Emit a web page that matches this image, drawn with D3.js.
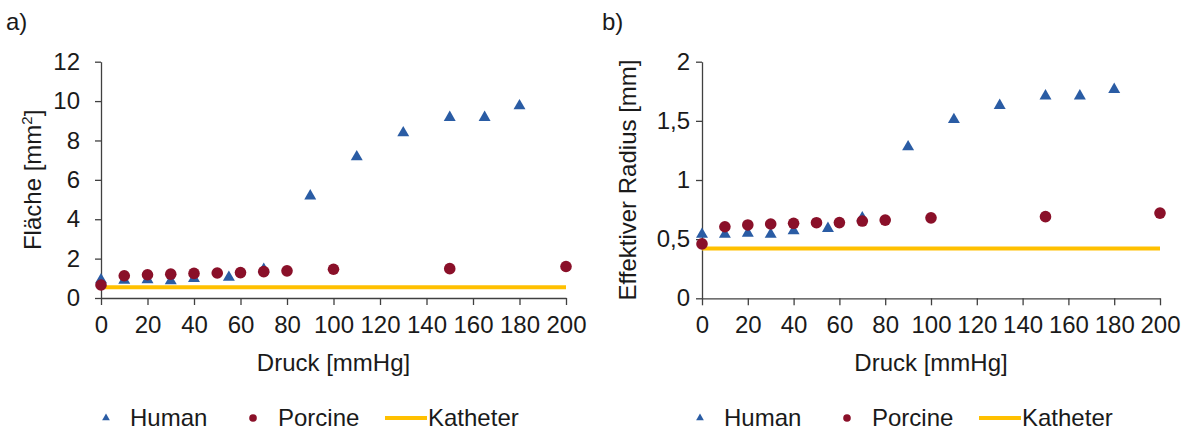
<!DOCTYPE html>
<html>
<head>
<meta charset="utf-8">
<script src="https://cdn.jsdelivr.net/npm/d3@7"></script>
<style>
  html, body { margin: 0; padding: 0; background: #fff; }
  svg { display: block; font-family: Arial, "Liberation Sans", sans-serif; }
</style>
</head>
<body>
<svg id="chart" width="1186" height="431"></svg>
<script>
// Pressure steps (mmHg)
const humanPressure   = [0, 10, 20, 30, 40, 55, 70, 90, 110, 130, 150, 165, 180];
const porcinePressure = [0, 10, 20, 30, 40, 50, 60, 70, 80, 100, 150, 200];

// a) cross-sectional area [mm²]
const humanArea     = [0.92, 0.90, 0.93, 0.87, 0.99, 1.05, 1.45, 5.18, 7.17, 8.39, 9.17, 9.17, 9.76];
const porcineArea   = [0.66, 1.13, 1.18, 1.21, 1.25, 1.27, 1.29, 1.34, 1.38, 1.46, 1.49, 1.60];
const catheterArea  = 0.55;

// b) effective radius [mm]
const humanRadius    = [0.54, 0.54, 0.55, 0.54, 0.57, 0.59, 0.68, 1.28, 1.51, 1.63, 1.71, 1.71, 1.765];
const porcineRadius  = [0.46, 0.605, 0.62, 0.628, 0.634, 0.639, 0.64, 0.653, 0.661, 0.68, 0.69, 0.72];
const catheterRadius = 0.42;

// Axis ticks
const xTicks       = [0, 20, 40, 60, 80, 100, 120, 140, 160, 180, 200];
const areaTicks    = [0, 2, 4, 6, 8, 10, 12];
const radiusTicks  = [0, 0.5, 1, 1.5, 2];

const seriesNames = ["Human", "Porcine", "Katheter"];

const BLUE = "#2A5CA4";
const RED = "#8A1029";
const GOLD = "#FFC000";
const AXIS = "#404040";
const TEXT = "#1a1a1a";
const FS = 24;

const svg = d3.select("#chart");
const fmt = d => String(d).replace(".", ",");

function panel(cfg) {
  const g = svg.append("g");
  const x = d3.scaleLinear().domain([0, 200]).range([cfg.x0, cfg.x1]);
  const y = d3.scaleLinear().domain(cfg.yDomain).range([cfg.y0, cfg.y1]);

  // panel letter
  g.append("text").attr("x", cfg.letterX).attr("y", 30)
    .attr("font-size", FS).attr("fill", TEXT).text(cfg.letter);

  // y axis
  const ya = g.append("g").attr("transform", `translate(${cfg.x0},0)`)
    .call(d3.axisLeft(y).tickValues(cfg.yTicks).tickSize(6).tickSizeOuter(0).tickPadding(cfg.yPad).tickFormat(fmt));
  // x axis
  const xa = g.append("g").attr("transform", `translate(0,${cfg.y0})`)
    .call(d3.axisBottom(x).tickValues(xTicks).tickSize(7).tickSizeOuter(0).tickPadding(11));

  [ya, xa].forEach(a => {
    a.selectAll("path").attr("stroke", AXIS).attr("stroke-width", 1.3);
    a.selectAll("line").attr("stroke", AXIS).attr("stroke-width", 1.3);
    a.selectAll("text").attr("font-size", FS).attr("fill", TEXT)
      .attr("font-family", "Arial, 'Liberation Sans', sans-serif");
  });

  // axis titles
  g.append("text")
    .attr("x", (cfg.x0 + cfg.x1) / 2).attr("y", 371)
    .attr("text-anchor", "middle").attr("font-size", FS).attr("fill", TEXT)
    .text("Druck [mmHg]");

  const yt = g.append("text")
    .attr("transform", `translate(${cfg.yTitleX},${(cfg.y0 + cfg.y1) / 2}) rotate(-90)`)
    .attr("text-anchor", "middle").attr("font-size", FS).attr("fill", TEXT);
  cfg.yTitle(yt);

  // catheter reference line
  g.append("line")
    .attr("x1", x(0)).attr("x2", x(200))
    .attr("y1", y(cfg.catheter)).attr("y2", y(cfg.catheter))
    .attr("stroke", GOLD).attr("stroke-width", 4);

  // human (triangles)
  const tri = d3.symbol().type(d3.symbolTriangle).size(62);
  g.selectAll(".human").data(humanPressure.map((p, i) => [p, cfg.human[i]]))
    .join("path")
    .attr("d", tri)
    .attr("transform", d => `translate(${x(d[0])},${y(d[1])})`)
    .attr("fill", BLUE);

  // porcine (circles)
  g.selectAll(".porcine").data(porcinePressure.map((p, i) => [p, cfg.porcine[i]]))
    .join("circle")
    .attr("cx", d => x(d[0])).attr("cy", d => y(d[1]))
    .attr("r", 5.8).attr("fill", RED);

  // legend
  const ly = 418;
  const lg = g.append("g");
  lg.append("path").attr("d", d3.symbol().type(d3.symbolTriangle).size(26))
    .attr("transform", `translate(${cfg.legendX},${ly})`).attr("fill", BLUE);
  lg.append("text").attr("x", cfg.legendX + 24).attr("y", ly).attr("dy", "0.35em")
    .attr("font-size", FS).attr("fill", TEXT).text(seriesNames[0]);
  lg.append("circle").attr("cx", cfg.legendX + 147).attr("cy", ly).attr("r", 3.8).attr("fill", RED);
  lg.append("text").attr("x", cfg.legendX + 172).attr("y", ly).attr("dy", "0.35em")
    .attr("font-size", FS).attr("fill", TEXT).text(seriesNames[1]);
  lg.append("line").attr("x1", cfg.legendX + 279).attr("x2", cfg.legendX + 321)
    .attr("y1", ly).attr("y2", ly).attr("stroke", GOLD).attr("stroke-width", 4);
  lg.append("text").attr("x", cfg.legendX + 322).attr("y", ly).attr("dy", "0.35em")
    .attr("font-size", FS).attr("fill", TEXT).text(seriesNames[2]);
}

panel({
  letter: "a)", letterX: 6,
  x0: 101, x1: 566, y0: 298, y1: 61.7,
  yDomain: [0, 12], yTicks: areaTicks, yPad: 15, yTitleX: 41,
  yTitle: t => {
    t.append("tspan").text("Fläche [mm");
    t.append("tspan").attr("font-size", 15).attr("dy", -9).text("2");
    t.append("tspan").attr("dy", 9).text("]");
  },
  human: humanArea, porcine: porcineArea, catheter: catheterArea,
  legendX: 106
});

panel({
  letter: "b)", letterX: 602,
  x0: 702, x1: 1160, y0: 298.3, y1: 61.7,
  yDomain: [0, 2], yTicks: radiusTicks, yPad: 6, yTitleX: 636,
  yTitle: t => t.text("Effektiver Radius [mm]"),
  human: humanRadius, porcine: porcineRadius, catheter: catheterRadius,
  legendX: 700
});
</script>
</body>
</html>
